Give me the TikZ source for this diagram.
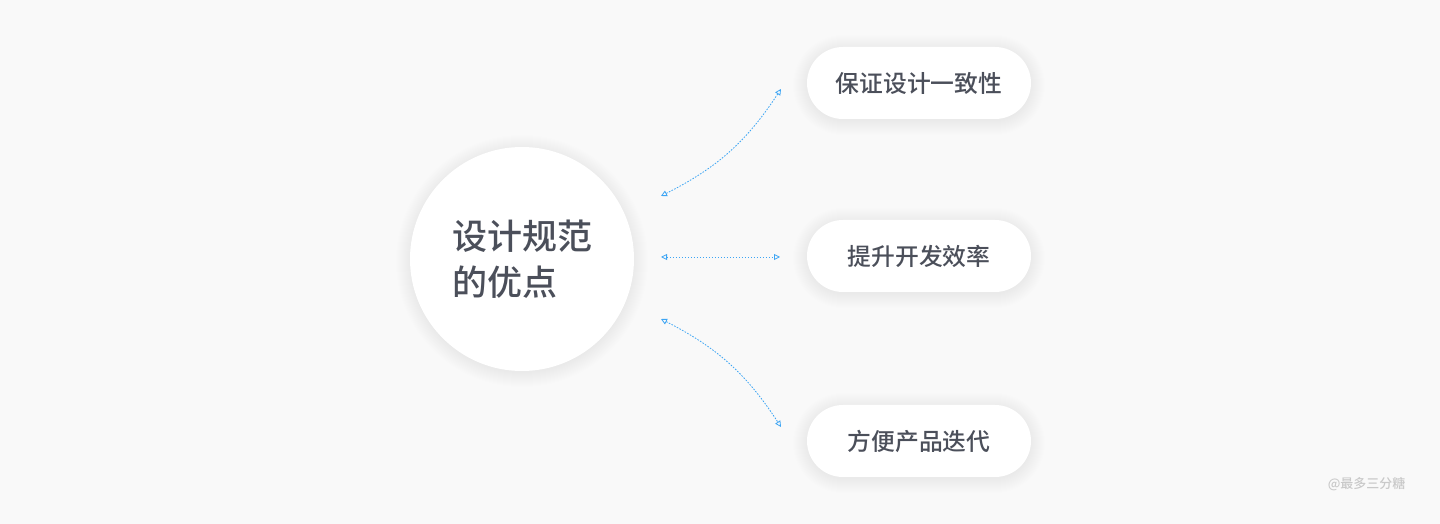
\documentclass[tikz,border=0pt]{standalone}
\usepackage{fontspec}
\setmainfont{Noto Sans CJK SC}[UprightFont={* Medium}]
\usepackage{tikz}
\usetikzlibrary{arrows.meta, positioning}

\definecolor{bgGray}{HTML}{F9F9F9}
\definecolor{txtDark}{HTML}{4B4F5A}
\definecolor{linkBlue}{HTML}{3DA5F4}
\definecolor{markGray}{HTML}{C9C9C9}

\tikzset{
  hub/.style={circle, fill=white, minimum size=224pt, inner sep=0pt,
      text=txtDark, align=left, font=\fontsize{35}{46}\selectfont},
  pill/.style={rectangle, rounded corners=36pt, fill=white, minimum width=224pt,
      minimum height=72pt, inner sep=0pt, text=txtDark,
      font=\fontsize{23.8}{28}\selectfont},
  haze/.style={black, opacity=0.0045},
  link/.style={linkBlue, line width=0.8pt, dash pattern=on 1.6pt off 1.4pt,
      {Triangle[open, length=6pt, width=6pt]}-{Triangle[open, length=6pt, width=6pt]}}
}

\begin{document}
\begin{tikzpicture}[x=1pt, y=1pt]
    \fill[bgGray] (0,0) rectangle (1440,524);
    \useasboundingbox (0,0) rectangle (1440,524);

    % soft shadows
    \foreach \i in {0,...,14} {
      \fill[haze] (522,263) circle (112+\i);
      \foreach \y in {441,268,83}
        \fill[haze, rounded corners=36+\i] (807-\i,\y-38-\i) rectangle (1031+\i,\y+34+\i);
    }

    \node[hub] (hub) at (522,265) {设计规范\\的优点};

    \node[pill] (consist) at (919,441) {保证设计一致性};
    \node[pill] (effic) at (919,268) {提升开发效率};
    \node[pill] (iter) at (919,83) {方便产品迭代};

    % free ends of the links
    \coordinate (s1) at (661,328);
    \coordinate (e1) at (781,435);
    \coordinate (s2) at (661,267);
    \coordinate (e2) at (780,267);
    \coordinate (s3) at (661,205);
    \coordinate (e3) at (781,97);

    \draw[link] (s1) to[bend right=15] (e1);
    \draw[link] (s2) -- (e2);
    \draw[link] (s3) to[bend left=15] (e3);

    \node[markGray, font=\fontsize{13}{15}\selectfont, anchor=east] (mark) at (1409,40) {@最多三分糖};
  \end{tikzpicture}
\end{document}
